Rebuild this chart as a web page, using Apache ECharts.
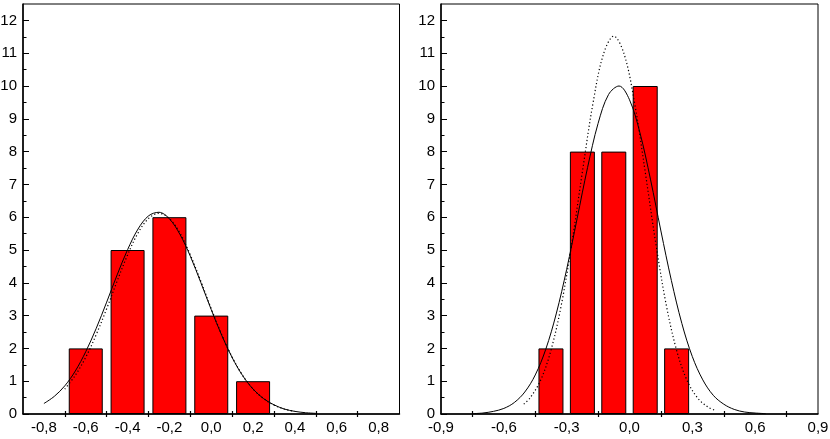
<!DOCTYPE html>
<html>
<head>
<meta charset="utf-8">
<title>Histograms</title>
<script src="https://cdn.jsdelivr.net/npm/echarts@6/dist/echarts.min.js"></script>
<style>
html, body { margin: 0; padding: 0; background: #fff; }
#histogramEch { width: 830px; height: 439px; }
</style>
</head>
<body>
<div id="histogramEch"></div>
<script>
// left histogram
const leftCenters = [-0.6, -0.4, -0.2, 0.0, 0.2]
const leftCounts = [2, 5, 6, 3, 1]
// right histogram
const rightCenters = [-0.375, -0.225, -0.075, 0.075, 0.225]
const rightCounts = [2, 8, 8, 10, 2]

// fitted curves
const leftSolidX = [-0.80, -0.75, -0.70, -0.65, -0.60, -0.55, -0.50, -0.45, -0.40, -0.35, -0.30, -0.25, -0.20, -0.15, -0.10, -0.05, 0.00, 0.05, 0.10, 0.15, 0.20, 0.25, 0.30, 0.35, 0.40, 0.45, 0.50]
const leftSolidY = [0.32, 0.54, 0.86, 1.31, 1.90, 2.61, 3.41, 4.24, 5.01, 5.64, 6.04, 6.15, 5.95, 5.48, 4.81, 4.01, 3.18, 2.40, 1.72, 1.17, 0.76, 0.47, 0.28, 0.15, 0.08, 0.04, 0.02]
const leftDotX = [-0.70, -0.65, -0.60, -0.55, -0.50, -0.45, -0.40, -0.35, -0.30, -0.25, -0.20, -0.15, -0.10, -0.05, 0.00, 0.05, 0.10, 0.15, 0.20, 0.25, 0.30, 0.35, 0.40]
const leftDotY = [0.76, 1.18, 1.73, 2.42, 3.21, 4.05, 4.85, 5.52, 5.96, 6.12, 5.96, 5.52, 4.85, 4.05, 3.21, 2.42, 1.73, 1.18, 0.76, 0.47, 0.27, 0.15, 0.08]
const rightSolidX = [-0.75, -0.70, -0.65, -0.60, -0.55, -0.50, -0.45, -0.40, -0.35, -0.30, -0.25, -0.20, -0.15, -0.10, -0.05, 0.00, 0.05, 0.10, 0.15, 0.20, 0.25, 0.30, 0.35, 0.40, 0.45, 0.50, 0.55, 0.60, 0.65]
const rightSolidY = [0.01, 0.03, 0.08, 0.17, 0.35, 0.67, 1.19, 1.97, 3.05, 4.41, 5.96, 7.52, 8.86, 9.74, 10.0, 9.58, 8.57, 7.16, 5.58, 4.07, 2.76, 1.75, 1.04, 0.57, 0.30, 0.14, 0.06, 0.03, 0.01]
const rightDotX = [-0.505, -0.475, -0.425, -0.375, -0.325, -0.275, -0.225, -0.175, -0.125, -0.075, -0.025, 0.025, 0.075, 0.125, 0.175, 0.225, 0.275, 0.325, 0.375, 0.41]
const rightDotY = [0.30, 0.49, 1.02, 1.94, 3.34, 5.22, 7.38, 9.45, 10.96, 11.52, 10.96, 9.45, 7.38, 5.22, 3.34, 1.94, 1.02, 0.49, 0.21, 0.11]

// tick labels and tick marks
const leftLabels = [-0.8, -0.6, -0.4, -0.2, 0.0, 0.2, 0.4, 0.6, 0.8]
const leftMarks = [-0.7, -0.5, -0.3, -0.1, 0.1, 0.3, 0.5, 0.7]
const rightLabels = [-0.9, -0.6, -0.3, 0.0, 0.3, 0.6, 0.9]
const rightMarks = [-0.75, -0.45, -0.15, 0.15, 0.45, 0.75]
const yLabels = [0, 1, 2, 3, 4, 5, 6, 7, 8, 9, 10, 11, 12]
const yMinor = [0.5, 1.5, 2.5, 3.5, 4.5, 5.5, 6.5, 7.5, 8.5, 9.5, 10.5, 11.5]

const FONT = 'Liberation Sans, Arial, Helvetica, sans-serif'

function comma(v) {
  const r = Math.round(v * 10) / 10
  if (r === 0) return '0,0'
  return r.toFixed(1).replace('.', ',')
}

function pairs(xs, ys) {
  return xs.map((x, i) => [x, ys[i]])
}

function xAxes(gridIndex, labels, marks) {
  return [
    {
      gridIndex: gridIndex,
      type: 'value',
      position: 'bottom',
      min: -0.9,
      max: 0.9,
      interval: 0.1,
      axisLine: { onZero: false, lineStyle: { color: '#000', width: 1.5 } },
      axisTick: { show: true, customValues: marks, length: 3, lineStyle: { color: '#000', width: 1.2 } },
      axisLabel: {
        customValues: labels,
        formatter: comma,
        color: '#000',
        fontFamily: FONT,
        fontSize: 15,
        margin: 6
      },
      splitLine: { show: false }
    },
    {
      gridIndex: gridIndex,
      type: 'value',
      position: 'bottom',
      min: -0.9,
      max: 0.9,
      interval: 0.1,
      axisLine: { show: false, onZero: false },
      axisTick: { show: true, inside: true, customValues: marks, length: 3, lineStyle: { color: '#000', width: 1.2 } },
      axisLabel: { show: false },
      splitLine: { show: false }
    }
  ]
}

function yAxes(gridIndex) {
  return [
    {
      gridIndex: gridIndex,
      type: 'value',
      position: 'left',
      min: 0,
      max: 12.5,
      interval: 0.5,
      axisLine: { show: true, onZero: false, lineStyle: { color: '#000', width: 1.5 } },
      axisTick: { show: true, inside: true, customValues: yLabels, length: 6, lineStyle: { color: '#000', width: 1 } },
      axisLabel: {
        customValues: yLabels,
        color: '#000',
        fontFamily: FONT,
        fontSize: 15,
        margin: 6
      },
      splitLine: { show: false }
    },
    {
      gridIndex: gridIndex,
      type: 'value',
      position: 'left',
      min: 0,
      max: 12.5,
      interval: 0.5,
      axisLine: { show: false, onZero: false },
      axisTick: { show: true, inside: true, customValues: yMinor, length: 3.5, lineStyle: { color: '#000', width: 1 } },
      axisLabel: { show: false },
      splitLine: { show: false }
    }
  ]
}

function bars(axisIndex, centers, counts, width) {
  return {
    type: 'bar',
    xAxisIndex: axisIndex,
    yAxisIndex: axisIndex,
    barWidth: width,
    data: pairs(centers, counts),
    itemStyle: { color: '#ff0000', borderColor: '#000', borderWidth: 1 }
  }
}

function curve(axisIndex, xs, ys, dotted) {
  return {
    type: 'line',
    xAxisIndex: axisIndex,
    yAxisIndex: axisIndex,
    data: pairs(xs, ys),
    showSymbol: false,
    symbol: 'none',
    smooth: 0.35,
    z: 5,
    lineStyle: dotted
      ? { color: '#000', width: 1.2, type: [1.2, 2.4] }
      : { color: '#000', width: 1 }
  }
}

const gridBase = {
  top: 4,
  bottom: 25,
  show: true,
  borderColor: '#000',
  borderWidth: 1,
  backgroundColor: '#fff',
  containLabel: false,
  outerBoundsMode: 'none'
}

const chart = echarts.init(document.getElementById('histogramEch'))
chart.setOption({
  backgroundColor: '#fff',
  animation: false,
  grid: [
    Object.assign({ left: 23, width: 376.5 }, gridBase),
    Object.assign({ left: 441, width: 377 }, gridBase)
  ],
  xAxis: [...xAxes(0, leftLabels, leftMarks), ...xAxes(1, rightLabels, rightMarks)],
  yAxis: [...yAxes(0), ...yAxes(1)],
  series: [
    bars(0, leftCenters, leftCounts, 34),
    curve(0, leftSolidX, leftSolidY, false),
    curve(0, leftDotX, leftDotY, true),
    bars(2, rightCenters, rightCounts, 25),
    curve(2, rightSolidX, rightSolidY, false),
    curve(2, rightDotX, rightDotY, true)
  ]
})
</script>
</body>
</html>
